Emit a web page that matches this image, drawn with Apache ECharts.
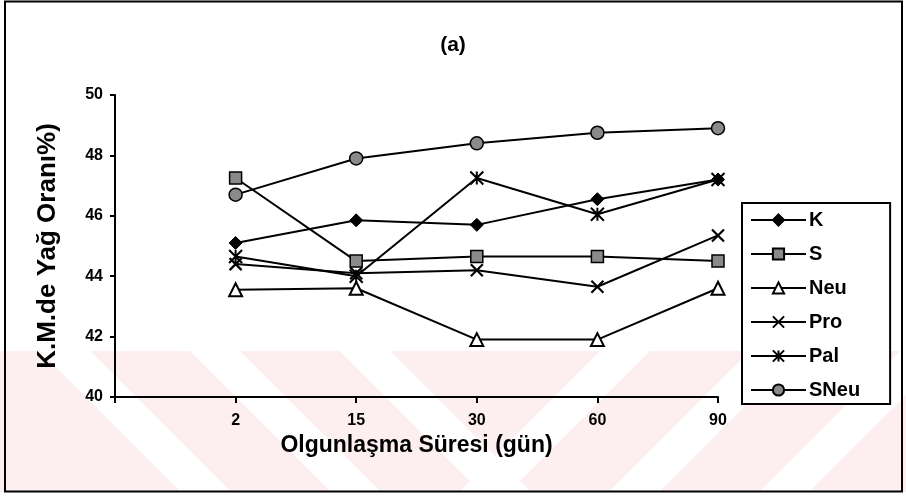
<!DOCTYPE html>
<html>
<head>
<meta charset="utf-8">
<script src="https://cdn.jsdelivr.net/npm/echarts@6/dist/echarts.min.js"></script>
<style>
html,body{margin:0;padding:0;background:#fff;}
#chart{width:906px;height:496px;}
</style>
</head>
<body>
<div id="chart"></div>
<script>
// ---- data ----
const dayLabels = ['2', '15', '30', '60', '90'];
const seriesNames = ['K', 'S', 'Neu', 'Pro', 'Pal', 'SNeu'];
const K    = [45.1, 45.85, 45.7, 46.55, 47.2];
const S    = [47.25, 44.5, 44.65, 44.65, 44.5];
const Neu  = [43.55, 43.6, 41.9, 41.9, 43.6];
const Pro  = [44.4, 44.1, 44.2, 43.65, 45.35];
const Pal  = [44.65, 44.0, 47.25, 46.05, 47.2];
const SNeu = [46.7, 47.9, 48.4, 48.75, 48.9];
const yTicks = [40, 42, 44, 46, 48, 50];

const FONT = "'Liberation Sans', Arial, sans-serif";
const xPath = 'path://M0,0L10,10M10,0L0,10';
const astPath = 'path://M0,0L10,12M10,0L0,12M5,0L5,12';

const symbolDefs = {
  K:    {symbol: 'diamond', size: 13, item: {color: '#000', borderColor: '#000', borderWidth: 1}},
  S:    {symbol: 'rect', size: 12, item: {color: '#8a8a8a', borderColor: '#000', borderWidth: 1.5}},
  Neu:  {symbol: 'triangle', size: 13, item: {color: '#fff', borderColor: '#000', borderWidth: 2}},
  Pro:  {symbol: xPath, size: 12, item: {color: '#000', borderColor: '#000', borderWidth: 2.2}},
  Pal:  {symbol: astPath, size: 13, item: {color: '#000', borderColor: '#000', borderWidth: 2}},
  SNeu: {symbol: 'circle', size: 13, item: {color: '#8a8a8a', borderColor: '#000', borderWidth: 1.5}}
};
const values = {K, S, Neu, Pro, Pal, SNeu};

const series = seriesNames.map(n => ({
  name: n,
  type: 'line',
  data: values[n].map((v, i) => [dayLabels[i], v]),
  symbol: symbolDefs[n].symbol,
  symbolSize: symbolDefs[n].size,
  showAllSymbol: true,
  itemStyle: symbolDefs[n].item,
  lineStyle: {color: '#000', width: 2},
  emphasis: {disabled: true},
  z: 3
}));

// faint watermark band with white diagonal stripes (decorative)
const wmTop = 351, wmBot = 492, wmH = wmBot - wmTop, sw = 50;
const whiteStripes = [];
[40, 190, 340].forEach(x0 => whiteStripes.push([[x0, wmTop], [x0 + sw, wmTop], [x0 + sw + wmH, wmBot], [x0 + wmH, wmBot]]));
[600, 750, 900].forEach(x0 => whiteStripes.push([[x0, wmTop], [x0 + sw, wmTop], [x0 + sw - wmH, wmBot], [x0 - wmH, wmBot]]));

const chart = echarts.init(document.getElementById('chart'), null, {renderer: 'canvas'});
chart.setOption({
  animation: false,
  backgroundColor: '#fff',
  title: {
    text: '(a)', left: 'center', top: 30,
    textStyle: {fontFamily: FONT, fontWeight: 'bold', fontSize: 21, color: '#000'}
  },
  grid: {left: 115, right: 188, top: 95, bottom: 99},
  legend: {
    orient: 'vertical',
    left: 742, top: 203,
    padding: [7, 30, 4, 8],
    itemWidth: 55, itemHeight: 14, itemGap: 14,
    borderColor: '#000', borderWidth: 2,
    backgroundColor: '#fff',
    data: seriesNames,
    textStyle: {fontFamily: FONT, fontWeight: 'bold', fontSize: 20, color: '#000', padding: [0, 0, 0, -2]}
  },
  xAxis: {
    type: 'category',
    data: [''].concat(dayLabels),
    boundaryGap: false,
    name: 'Olgunlaşma Süresi (gün)',
    nameLocation: 'middle',
    nameGap: 32,
    nameTextStyle: {fontFamily: FONT, fontWeight: 'bold', fontSize: 23, color: '#000'},
    axisLine: {lineStyle: {color: '#000', width: 2}},
    axisTick: {show: true, interval: 0, length: 6, lineStyle: {color: '#000', width: 2}},
    axisLabel: {interval: 0, margin: 16, fontFamily: FONT, fontWeight: 'bold', fontSize: 16, color: '#000'},
    splitLine: {show: false}
  },
  yAxis: {
    type: 'value',
    min: yTicks[0], max: yTicks[yTicks.length - 1], interval: 2,
    name: 'K.M.de Yağ Oranı%)',
    nameLocation: 'middle',
    nameGap: 54,
    nameTextStyle: {fontFamily: FONT, fontWeight: 'bold', fontSize: 26, color: '#000'},
    axisLine: {show: true, lineStyle: {color: '#000', width: 2}},
    axisTick: {show: true, length: 5, lineStyle: {color: '#000', width: 2}},
    axisLabel: {margin: 12, fontFamily: FONT, fontWeight: 'bold', fontSize: 16, color: '#000'},
    splitLine: {show: false}
  },
  graphic: [
    {
      type: 'rect', z: -20, silent: true,
      shape: {x: 0, y: wmTop, width: 906, height: wmH},
      style: {fill: '#fdeef0'}
    },
    ...whiteStripes.map(p => ({
      type: 'polygon', z: -10, silent: true,
      shape: {points: p},
      style: {fill: '#ffffff'}
    })),
    {
      type: 'rect', z: 100, silent: true,
      shape: {x: 5, y: 1.5, width: 897, height: 490},
      style: {fill: 'none', stroke: '#000', lineWidth: 2}
    }
  ],
  series: series
});
</script>
</body>
</html>
